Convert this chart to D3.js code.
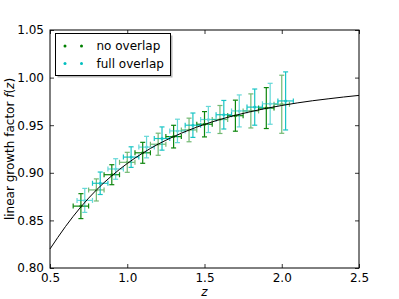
<!DOCTYPE html>
<html><head><meta charset="utf-8">
<script src="https://cdn.jsdelivr.net/npm/d3@7"></script>
<style>body{margin:0;background:#fff}svg{display:block}text{font-family:"DejaVu Sans",sans-serif}</style>
</head><body>
<svg id="c" width="399" height="299"></svg>
<script>
// ---- data ----
const zNo = [0.70,0.80,0.90,1.00,1.10,1.20,1.30,1.40,1.50,1.60,1.70,1.80,1.90,2.00];
const fNo = [0.865,0.882,0.898,0.911,0.921,0.930,0.938,0.945,0.951,0.956,0.960,0.965,0.968,0.972];
const eNo = [0.0131,0.0116,0.0105,0.0105,0.0110,0.0116,0.0119,0.0124,0.0133,0.0147,0.0163,0.0179,0.0215,0.0305];
const zFull = [0.725,0.825,0.925,1.025,1.125,1.225,1.325,1.425,1.525,1.625,1.725,1.825,1.925,2.025];
const fFull = [0.871,0.889,0.904,0.9165,0.927,0.936,0.944,0.950,0.956,0.961,0.965,0.969,0.9725,0.9755];
const eFull = [0.0126,0.0118,0.0108,0.0108,0.0113,0.0122,0.0123,0.0128,0.0137,0.0150,0.0168,0.0190,0.0215,0.0305];
const zErr = 0.05;
const curveZ = [0.5,0.6,0.7,0.8,0.9,1.0,1.1,1.2,1.3,1.4,1.5,1.6,1.7,1.8,1.9,2.0,2.1,2.2,2.3,2.4,2.5];
const curveF = [0.8200,0.8435,0.8642,0.8819,0.8969,0.9098,0.9207,0.9301,0.9380,0.9449,0.9508,0.9560,0.9604,0.9643,0.9677,0.9707,0.9734,0.9757,0.9777,0.9796,0.9813];
const xTicks = [0.5,1.0,1.5,2.0,2.5];
const yTicks = [0.80,0.85,0.90,0.95,1.00,1.05];
const legendLabels = ["no overlap","full overlap"];

// ---- layout ----
const L=50,R=359,T=30,B=268;
const svg=d3.select("#c");
const x=d3.scaleLinear().domain([0.5,2.5]).range([L,R]);
const y=d3.scaleLinear().domain([0.80,1.05]).range([B,T]);
const colNo="#008000", colFull="#00bfbf";

function drawSeries(zs,fs,es,col,alphaEven,alphaOdd){
  const g=svg.append("g");
  zs.forEach((z,i)=>{
    const a = i%2===0?alphaEven:alphaOdd;
    const gg=g.append("g").attr("stroke",col).attr("stroke-width",1.2).attr("opacity",a).attr("fill","none");
    const cx=x(z), cy=y(fs[i]);
    const yt=y(fs[i]+es[i]), yb=y(fs[i]-es[i]);
    const xl=x(z-zErr), xr=x(z+zErr);
    gg.append("line").attr("x1",cx).attr("x2",cx).attr("y1",yt).attr("y2",yb);
    gg.append("line").attr("x1",cx-2.5).attr("x2",cx+2.5).attr("y1",yt).attr("y2",yt);
    gg.append("line").attr("x1",cx-2.5).attr("x2",cx+2.5).attr("y1",yb).attr("y2",yb);
    gg.append("line").attr("x1",xl).attr("x2",xr).attr("y1",cy).attr("y2",cy);
    gg.append("line").attr("x1",xl).attr("x2",xl).attr("y1",cy-2.5).attr("y2",cy+2.5);
    gg.append("line").attr("x1",xr).attr("x2",xr).attr("y1",cy-2.5).attr("y2",cy+2.5);
    gg.append("circle").attr("cx",cx).attr("cy",cy).attr("r",1.5).attr("fill",col).attr("stroke","none");
  });
}
drawSeries(zNo,fNo,eNo,colNo,0.95,0.55);
drawSeries(zFull,fFull,eFull,colFull,0.6,0.9);

// curve
svg.append("path").datum(curveZ.map((z,i)=>[z,curveF[i]]))
  .attr("d",d3.line().x(d=>x(d[0])).y(d=>y(d[1])).curve(d3.curveMonotoneX))
  .attr("fill","none").attr("stroke","#000").attr("stroke-width",1);

// axes (ticks inward on all sides)
const tl=4;
const axB=d3.axisBottom(x).tickValues(xTicks).tickFormat(d3.format(".1f")).tickSizeInner(-tl).tickSizeOuter(0).tickPadding(5);
const axT=d3.axisTop(x).tickValues(xTicks).tickFormat("").tickSizeInner(-tl).tickSizeOuter(0);
const axL=d3.axisLeft(y).tickValues(yTicks).tickFormat(d3.format(".2f")).tickSizeInner(-tl).tickSizeOuter(0).tickPadding(6);
const axR=d3.axisRight(y).tickValues(yTicks).tickFormat("").tickSizeInner(-tl).tickSizeOuter(0);
function style(g){g.select(".domain").remove();g.selectAll("line").attr("stroke","#000").attr("stroke-width",0.8);g.selectAll("text").attr("font-size",12).attr("fill","#000").attr("font-family","DejaVu Sans");}
svg.append("g").attr("transform",`translate(0,${B})`).call(axB).call(style);
svg.append("g").attr("transform",`translate(0,${T})`).call(axT).call(style);
svg.append("g").attr("transform",`translate(${L},0)`).call(axL).call(style);
svg.append("g").attr("transform",`translate(${R},0)`).call(axR).call(style);
svg.append("rect").attr("x",L).attr("y",T).attr("width",R-L).attr("height",B-T).attr("fill","none").attr("stroke","#000").attr("stroke-width",1);

// labels
svg.append("text").attr("x",x(1.5)).attr("y",296).attr("text-anchor","middle").attr("font-size",12).attr("font-style","italic").text("z");
const yl=svg.append("text").attr("transform","translate(14,149) rotate(-90)").attr("text-anchor","middle").attr("font-size",12);
yl.append("tspan").text("linear growth factor ");
yl.append("tspan").attr("font-style","italic").text("f");
yl.append("tspan").text("(");
yl.append("tspan").attr("font-style","italic").text("z");
yl.append("tspan").text(")");

// legend
const lg=svg.append("g");
lg.append("rect").attr("x",57.5).attr("y",35.5).attr("width",115).attr("height",42).attr("fill","#888").attr("opacity",0.6);
lg.append("rect").attr("x",55.5).attr("y",33.5).attr("width",115).attr("height",42).attr("fill","#fff").attr("stroke","#000").attr("stroke-width",1);
[colNo,colFull].forEach((c,i)=>{
  const yy=46+i*17.5;
  [65,81.5].forEach(xx=>lg.append("circle").attr("cx",xx).attr("cy",yy).attr("r",1.5).attr("fill",c));
  lg.append("text").attr("x",96.5).attr("y",yy+4.3).attr("font-size",12).text(legendLabels[i]);
});
</script>
</body></html>
